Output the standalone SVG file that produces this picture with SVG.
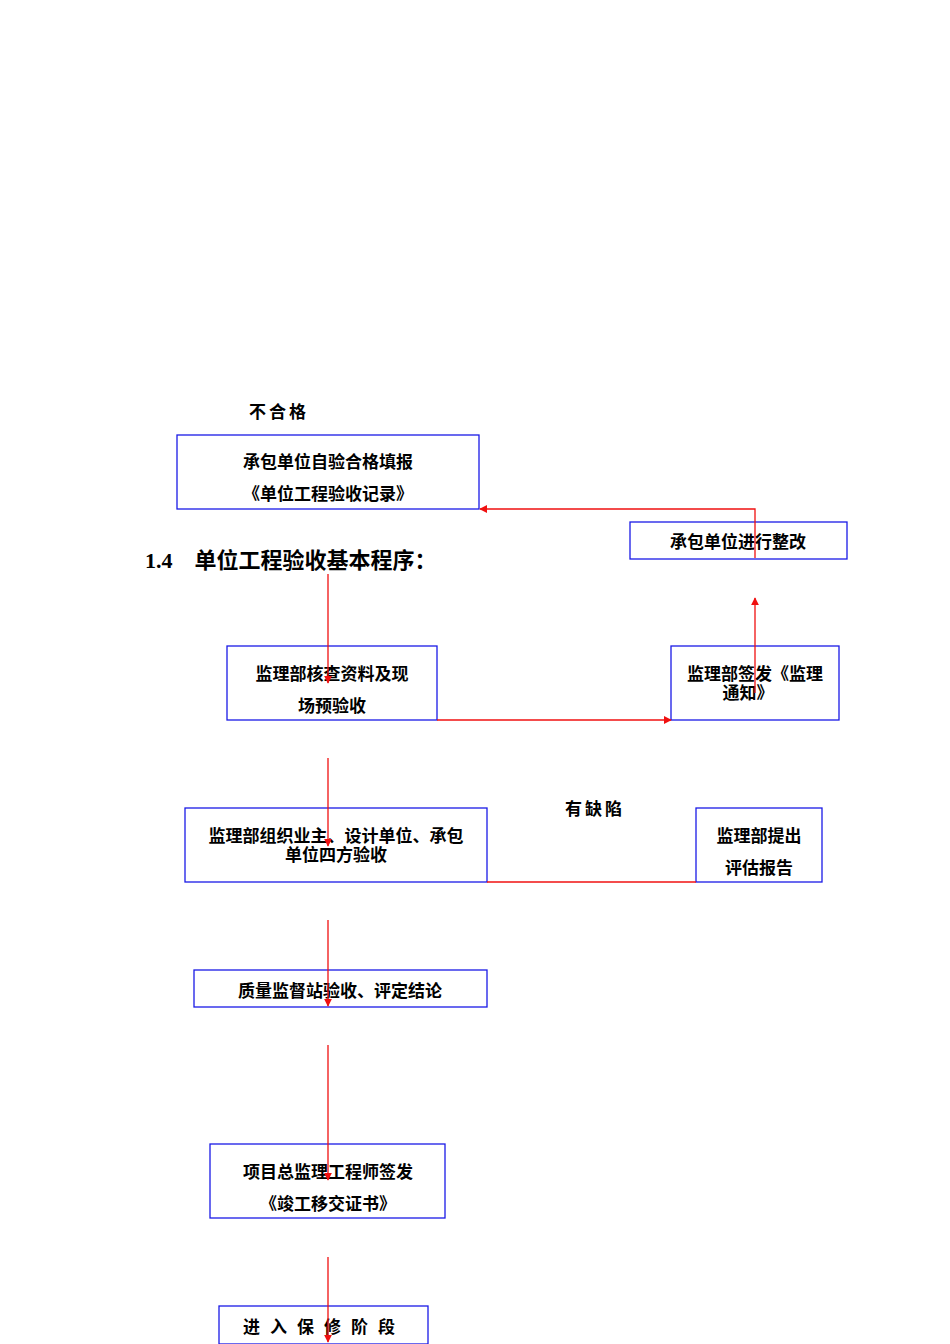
<svg xmlns="http://www.w3.org/2000/svg" width="950" height="1344" viewBox="0 0 950 1344">
<style>
.box{fill:none;stroke:#1a1ae6;stroke-width:1.3}
.t{font-family:"Liberation Serif","Noto Sans CJK SC",serif;font-size:17px;font-weight:bold;fill:#000;text-anchor:middle}
.c{fill:none;stroke:#f01010;stroke-width:1.3}
</style>
<defs><marker id="a" viewBox="0 0 10 10" refX="9" refY="5" markerWidth="8" markerHeight="8" markerUnits="userSpaceOnUse" orient="auto"><path d="M0,0L10,5L0,10z" fill="#f01010"/></marker></defs>
<rect width="950" height="1344" fill="#fff"/>
<text x="279" y="418" class="t" style="letter-spacing:3px">不合格</text>
<text x="145" y="568" style="font-family:'Liberation Serif','Noto Sans CJK SC',serif;font-size:22px;font-weight:bold">1.4　单位工程验收基本程序：</text>
<text x="595" y="815" class="t" style="letter-spacing:3px">有缺陷</text>
<g id="n1"><rect class="box" x="177" y="435" width="302" height="74"/><text class="t" x="328" y="468">承包单位自验合格填报</text><text class="t" x="328" y="500">《单位工程验收记录》</text></g>
<g id="n2"><rect class="box" x="630" y="522" width="217" height="37"/><text class="t" x="738" y="548">承包单位进行整改</text></g>
<g id="n3"><rect class="box" x="227" y="646" width="210" height="74"/><text class="t" x="332" y="680">监理部核查资料及现</text><text class="t" x="332" y="712">场预验收</text></g>
<g id="n4"><rect class="box" x="671" y="646" width="168" height="74"/><text class="t" x="755" y="680">监理部签发《监理</text><text class="t" x="748" y="699">通知》</text></g>
<g id="n5"><rect class="box" x="185" y="808" width="302" height="74"/><text class="t" x="336" y="842">监理部组织业主、设计单位、承包</text><text class="t" x="336" y="861">单位四方验收</text></g>
<g id="n6"><rect class="box" x="696" y="808" width="126" height="74"/><text class="t" x="759" y="842">监理部提出</text><text class="t" x="759" y="874">评估报告</text></g>
<g id="n7"><rect class="box" x="194" y="970" width="293" height="37"/><text class="t" x="340" y="997">质量监督站验收、评定结论</text></g>
<g id="n8"><rect class="box" x="210" y="1144" width="235" height="74"/><text class="t" x="328" y="1178">项目总监理工程师签发</text><text class="t" x="328" y="1210">《竣工移交证书》</text></g>
<g id="n9"><rect class="box" x="219" y="1306" width="209" height="38"/><text class="t" x="324" y="1333" style="letter-spacing:10px">进入保修阶段</text></g>
<g id="connectors">
<path class="c" d="M328,574V683" marker-end="url(#a)"/>
<path class="c" d="M328,758V846" marker-end="url(#a)"/>
<path class="c" d="M328,920V1006" marker-end="url(#a)"/>
<path class="c" d="M328,1045V1180" marker-end="url(#a)"/>
<path class="c" d="M328,1257V1342" marker-end="url(#a)"/>
<path class="c" d="M437,720H671" marker-end="url(#a)"/>
<path class="c" d="M755,693V598" marker-end="url(#a)"/>
<path class="c" d="M755,558V509H480" marker-end="url(#a)"/>
<path class="c" d="M487,882H696"/>
</g>
</svg>
